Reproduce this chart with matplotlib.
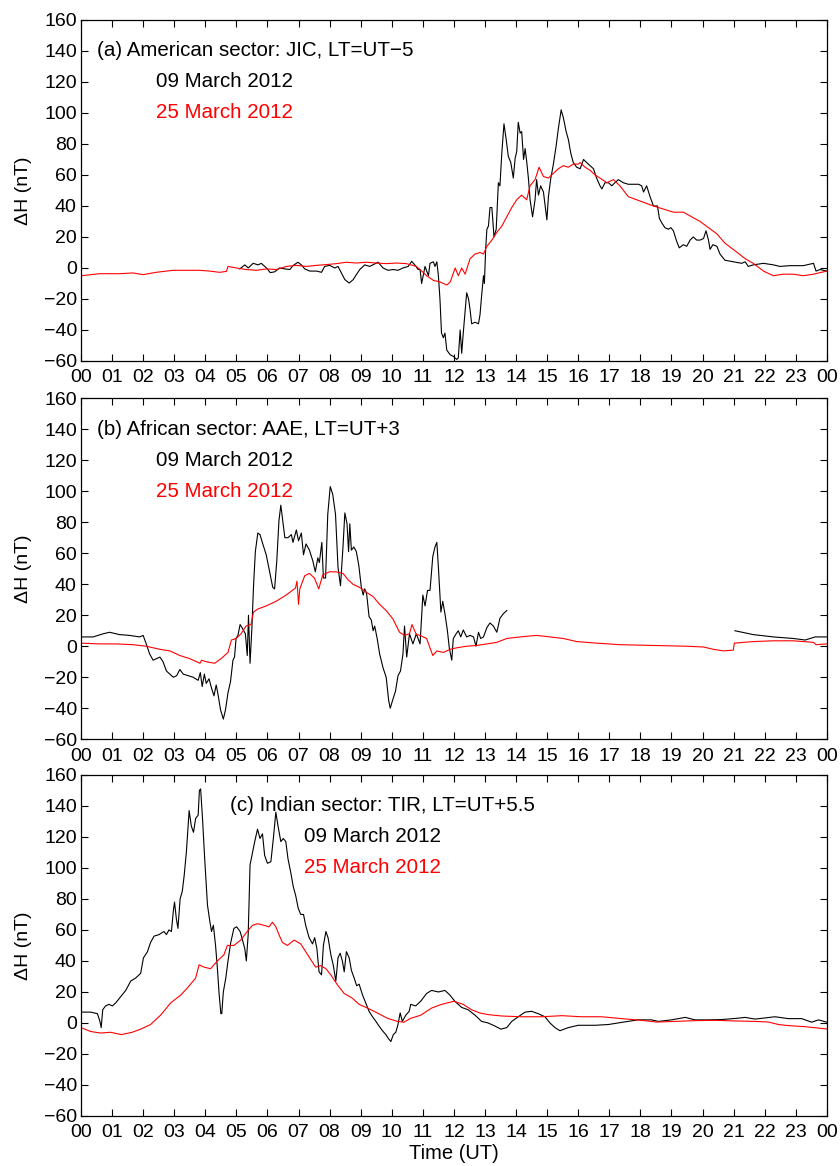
import numpy as np
import matplotlib
matplotlib.use('Agg')
import matplotlib.pyplot as plt

plt.rcParams['font.family'] = ['Liberation Sans', 'DejaVu Sans']

# Panel (a) American sector, JIC
a_t_red = [0.0, 0.6, 1.24, 1.67, 2.0, 2.42, 2.96, 3.39, 3.82, 4.14, 4.46, 4.68, 4.73, 5.0, 5.32, 5.64, 5.97,
           6.29, 6.61, 6.93, 7.25, 7.58, 7.9, 8.22, 8.54, 8.86, 9.18, 9.51, 9.83, 10.15, 10.47, 10.79,
           10.91, 11.12, 11.34, 11.55, 11.77, 11.88, 12.04, 12.14, 12.25, 12.36, 12.52, 12.68, 12.84, 12.95,
           13.06, 13.22, 13.38, 13.54, 13.7, 13.86, 14.02, 14.18, 14.34, 14.45, 14.61, 14.74, 14.88, 15.04,
           15.2, 15.36, 15.52, 15.68, 15.84, 16.0, 16.06, 16.22, 16.38, 16.54, 16.7, 16.92, 17.13, 17.34,
           17.61, 17.88, 18.15, 18.42, 18.74, 19.06, 19.38, 19.65, 19.92, 20.19, 20.46, 20.72, 21.05, 21.37,
           21.63, 21.96, 22.28, 22.6, 22.92, 23.24, 23.57, 23.78, 24.0]
a_red = [-5, -3.7, -3.7, -3.2, -4.3, -2.8, -1.5, -1.5, -1.5, -2, -2.8, -2.2, 1, 0, -1, -1.5, -0.6,
         -1, 1, 1.7, 1, 1.7, 2.2, 2.8, 3.7, 3.2, 3.7, 3.2, 2.8, 3.2, 2.8, 1,
         -1, -5, -8, -9, -11, -9, 0, -5, 0, -4, 6, 9, 10, 9,
         14, 18, 23, 27, 33, 39, 44, 47, 44, 53, 57, 65, 59, 58,
         61, 64, 66, 65, 67, 67, 68, 65, 63, 60, 58, 55, 57, 53,
         46, 44, 42, 40, 38, 36, 36, 33, 30, 26, 22, 16, 11, 6,
         3, -2, -5, -4, -4, -5, -4, -3, -2]

a_t_black = [5.11, 5.27, 5.38, 5.54, 5.7, 5.8, 5.97, 6.09, 6.23, 6.39, 6.56, 6.72, 6.82, 6.98, 7.09, 7.2,
             7.36, 7.58, 7.74, 7.84, 8.0, 8.17, 8.27, 8.38, 8.49, 8.63, 8.76, 8.86, 8.97, 9.13, 9.29, 9.45,
             9.56, 9.72, 9.88, 10.04, 10.2, 10.36, 10.53, 10.64, 10.74, 10.85,
             10.91, 10.96, 11.07, 11.18, 11.23, 11.34, 11.39, 11.45, 11.5, 11.55, 11.6, 11.66, 11.71, 11.77,
             11.88, 11.98, 12.09, 12.14, 12.2, 12.25, 12.3, 12.41, 12.47, 12.52, 12.57, 12.68, 12.79, 12.84,
             12.89, 12.95, 12.98, 13.02, 13.06, 13.11, 13.16, 13.22, 13.29, 13.36, 13.43, 13.48, 13.54, 13.61,
             13.68, 13.75, 13.83, 13.91, 13.97, 14.02, 14.07, 14.13, 14.18, 14.24, 14.29, 14.34, 14.4, 14.45,
             14.53, 14.61, 14.66, 14.72, 14.79, 14.88, 14.99, 15.04, 15.11, 15.2, 15.29, 15.36, 15.45, 15.52,
             15.61, 15.68, 15.76, 15.84, 15.95, 16.06, 16.17, 16.27, 16.38, 16.49, 16.59, 16.7, 16.76, 16.86,
             16.97, 17.08, 17.18, 17.29, 17.45, 17.61, 17.77, 17.94, 18.04, 18.1, 18.2, 18.31, 18.42, 18.55,
             18.61, 18.69, 18.79, 18.9, 18.98, 19.06, 19.17, 19.25, 19.38, 19.49, 19.6, 19.7, 19.81, 19.92,
             20.03, 20.11, 20.19, 20.24, 20.33, 20.46, 20.56, 20.72, 20.99, 21.26, 21.37, 21.47, 21.63, 21.96,
             22.28, 22.49, 22.81, 23.24, 23.57, 23.65, 23.78, 24.0]
a_black = [-0.6, 2, 0, 3, 2, 3, 0, -3, -2.5, 0, -0.6, -1, 1.5, 3.7, 2, -0.6,
           -2, -2, -2.8, 1, 1.7, 0, 1, -3.2, -7.5, -9.7, -7.5, -4.3, -1, 2, 1, 2.6,
           3.7, 0, -1.5, -1, -1.5, 0, 1, 4.3, 2, -1,
           -1, -10, 1, -5, 3, 4, 1, 4, -5, -20, -42, -45, -42, -53,
           -56, -57, -59, -58, -40, -55, -42, -16, -20, -27, -36, -35, -36, -30,
           -18, -5, -10, 12, 25, 27, 39, 39, 20, 25, 55, 53, 74, 93,
           83, 72, 68, 58, 71, 75, 94, 87, 88, 70, 77, 69, 57, 44,
           33, 44, 57, 47, 53, 49, 31, 46, 57, 67, 79, 90, 102, 97,
           88, 83, 74, 68, 65, 64, 70, 68, 66, 64, 58, 53, 51, 55,
           55, 53, 55, 57, 55, 54, 54, 54, 53, 49, 53, 46, 40, 40,
           32, 29, 26, 25, 26, 24, 17, 13, 15, 14, 18, 20, 18, 18,
           19, 24, 18, 12, 15, 14, 9, 5, 4, 3, 4, 1, 2, 3,
           2, 1, 1.5, 1.5, 3, -2, -1, -2]

# Panel (b) African sector, AAE
b_t_red = [0.0, 0.6, 1.14, 1.67, 2.1, 2.54, 2.86, 3.18, 3.5, 3.83, 3.88, 4.03, 4.3, 4.51, 4.73, 4.84,
           4.99, 5.15, 5.31, 5.47, 5.55, 5.69, 5.96, 6.28, 6.6, 6.9, 6.95, 7.0, 7.04, 7.2, 7.35, 7.51,
           7.65, 7.78, 7.99, 8.21, 8.43, 8.59, 8.75, 8.96, 9.17, 9.4, 9.61, 9.82, 10.04, 10.25, 10.41,
           10.57, 10.65, 10.79, 10.91, 11.12, 11.32, 11.45, 11.66, 11.88, 12.09, 12.41, 12.73, 13.06,
           13.38, 13.7, 14.13, 14.66, 15.09, 15.52, 15.95, 16.59, 17.34, 18.42, 19.49, 20.03, 20.35,
           20.67, 20.99, 21.02, 21.63, 22.28, 22.92, 23.57, 23.65, 24.0]
b_red = [2, 1.5, 1.5, 1, 0, -2, -3, -6, -8, -11, -9, -10, -11, -8, -4, 4,
         5, 8, 13, 14, 22, 24, 26, 29, 33, 37.5, 42, 27, 37, 45.5, 47, 44,
         37, 46, 48, 48, 47, 43, 40, 38, 35, 32, 27, 23, 17.5, 9, 7,
         8, 14, 7.5, 7, 5, -6, -3, -4, -2, -1, 0, 0.5, 1.5,
         2.5, 5, 6, 7, 6, 5, 3, 2, 1, 0.5, 0, -0.5, -2,
         -3, -2.5, 2, 3, 3.5, 3.5, 2.5, 1, 1.5]

b_t_black = [0.0, 0.39, 0.71, 0.92, 1.24, 1.56, 1.89, 2.0, 2.1, 2.21, 2.32, 2.43, 2.54, 2.64, 2.75, 2.86,
             2.97, 3.08, 3.18, 3.29, 3.45, 3.61, 3.77, 3.84, 3.9, 3.97, 4.03, 4.12, 4.2, 4.28, 4.35, 4.4,
             4.49, 4.58, 4.65, 4.73, 4.81, 4.89, 4.94, 4.99, 5.05, 5.12, 5.21, 5.29, 5.35, 5.39, 5.44, 5.5,
             5.55, 5.61, 5.69, 5.76, 5.85, 5.96, 6.07, 6.17, 6.23, 6.3, 6.37, 6.43, 6.48, 6.56, 6.66, 6.77,
             6.82, 6.93, 7.0, 7.09, 7.16, 7.24, 7.35, 7.46, 7.54, 7.62, 7.67, 7.75, 7.8, 7.87, 7.94, 8.02,
             8.1, 8.19, 8.27, 8.35, 8.43, 8.49, 8.56, 8.61, 8.65, 8.7, 8.78, 8.86, 8.94, 9.02, 9.08, 9.13,
             9.19, 9.27, 9.34, 9.4, 9.45, 9.53, 9.61, 9.72, 9.82, 9.9, 9.95, 10.04, 10.12, 10.2, 10.28,
             10.36, 10.41, 10.48, 10.57, 10.68, 10.79, 10.91, 11.0, 11.07, 11.15, 11.23, 11.32, 11.39,
             11.45, 11.5, 11.58, 11.64, 11.71, 11.79, 11.85, 11.93, 11.98, 12.07, 12.14, 12.22, 12.3,
             12.41, 12.52, 12.63, 12.71, 12.79, 12.86, 12.95, 13.06, 13.16, 13.27, 13.38, 13.48, 13.59,
             13.7, 17.0, 21.04, 21.63, 22.28, 22.92, 23.3, 23.62, 24.0]
b_black = [6, 6, 8, 9, 7.5, 7, 6, 7, 1.5, -5, -9, -8, -7, -10, -16, -18,
           -20, -19, -15, -18, -19, -20, -22, -17, -26, -18, -24, -21, -27, -32, -25, -30,
           -41, -47, -41, -30, -23, -9, -7, 5, 7, 14, 11, 8, -6, 20, -11, 12,
           38, 61, 73, 72, 66, 59, 48, 38, 37, 55, 81, 91, 83, 70, 70, 72,
           67, 75, 68, 73, 59, 66, 62, 55, 48, 57, 54, 67, 44, 44, 85, 103,
           98, 85, 51, 39, 64, 86, 79, 61, 79, 62, 64, 61, 52, 38, 33, 37,
           34, 19, 17, 10, 13, 5, -5, -14, -20, -35, -40, -34, -29, -19, -16,
           -5, 13, -7, 8, 1.5, 8, 1.5, 33, 26, 36, 36, 58, 64,
           67, 51, 22, 29, 21, 10, -1, -9, 5, 8, 10, 6, 10.5,
           6, 7, 6, 0, 9, 5, 6, 12, 15, 13, 9, 18, 21,
           23, np.nan, 10, 7.5, 6, 5, 4, 6, 6]

# Panel (c) Indian sector, TIR
c_t_red = [0.0, 0.31, 0.63, 0.95, 1.3, 1.65, 1.92, 2.24, 2.56, 2.89, 3.21, 3.42, 3.69, 3.8, 3.96, 4.17,
           4.39, 4.6, 4.71, 4.92, 5.14, 5.35, 5.52, 5.68, 5.89, 6.05, 6.16, 6.27, 6.37, 6.48, 6.64, 6.86,
           7.07, 7.23, 7.39, 7.55, 7.71, 7.88, 8.04, 8.25, 8.47, 8.73, 8.95, 9.22, 9.54, 9.86, 10.18,
           10.39, 10.61, 10.93, 11.28, 11.6, 12.0, 12.3, 12.57, 12.84, 13.1, 13.53, 14.18, 14.82, 15.47,
           16.11, 16.75, 17.4, 18.04, 18.52, 19.11, 19.76, 20.4, 21.04, 21.69, 22.12, 22.44, 22.76,
           23.3, 24.0]
c_red = [-3, -5.5, -6.5, -6, -7.5, -6, -4, -1, 5, 13, 18, 22.5, 29, 37.5, 36, 35,
         40, 44, 50, 50, 53.5, 59, 63, 64, 63, 62, 65, 62, 57, 52, 50, 53.5,
         51, 46, 41, 36, 37, 35, 31, 24.6, 19, 16, 12, 9.6, 6.4, 3, 1,
         0.5, 3, 5, 9.6, 12, 14, 12, 8.5, 6.4, 5.4, 4.5, 4, 4, 4.7,
         4, 4, 2.8, 1.7, 0.6, 1, 1.5, 1.7, 1.3, 1, 0.6, -1, -1.7,
         -2.4, -3.9]

c_t_black = [0.0, 0.31, 0.53, 0.61, 0.65, 0.7, 0.79, 0.9, 1.01, 1.12, 1.28, 1.44, 1.6, 1.76, 1.92, 2.01,
             2.14, 2.24, 2.35, 2.51, 2.67, 2.75, 2.83, 2.91, 2.97, 3.01, 3.07, 3.12, 3.19, 3.26, 3.32, 3.39,
             3.48, 3.55, 3.62, 3.69, 3.77, 3.81, 3.85, 3.91, 3.98, 4.07, 4.15, 4.2, 4.26, 4.33, 4.39, 4.44,
             4.5, 4.53, 4.58, 4.66, 4.73, 4.82, 4.92, 5.01, 5.12, 5.19, 5.27, 5.32, 5.38, 5.44, 5.52, 5.59,
             5.68, 5.76, 5.84, 5.91, 6.0, 6.11, 6.19, 6.27, 6.34, 6.43, 6.51, 6.59, 6.66, 6.75, 6.83, 6.91,
             6.99, 7.07, 7.16, 7.23, 7.34, 7.45, 7.52, 7.59, 7.66, 7.74, 7.8, 7.88, 7.95, 8.04, 8.12, 8.2,
             8.27, 8.34, 8.41, 8.47, 8.54, 8.63, 8.7, 8.79, 8.87, 8.95, 9.06, 9.16, 9.27, 9.38, 9.49, 9.59,
             9.7, 9.81, 9.89, 9.97, 10.05, 10.13, 10.2, 10.27, 10.34, 10.45, 10.56, 10.61, 10.77, 10.93,
             11.12, 11.28, 11.5, 11.71, 11.87, 12.03, 12.25, 12.46, 12.68, 12.89, 13.1, 13.32, 13.51, 13.7,
             13.86, 14.07, 14.29, 14.5, 14.71, 14.93, 15.09, 15.25, 15.41, 15.68, 16.0, 16.54, 16.97, 17.4,
             17.93, 18.36, 18.58, 19.0, 19.44, 19.76, 20.19, 20.62, 21.1, 21.37, 21.69, 22.33, 22.76,
             23.19, 23.51, 23.73, 24.0]
c_black = [7, 7, 6, 1, -3, 8.5, 11, 12, 11, 13, 17, 21, 27, 29, 32, 42,
           46, 52, 56, 57, 59, 57, 60, 59, 72, 78, 67, 61, 80, 85, 95, 110,
           137, 127, 123, 132, 134, 150, 151, 132, 106, 76, 65, 59, 63, 50, 35, 20,
           6, 6, 20, 29, 40, 52, 61, 62, 59, 54, 48, 40, 57, 102, 110, 117,
           125, 119, 122, 108, 103, 104, 119, 136, 127, 117, 119, 117, 106, 97, 88, 82,
           74, 70, 70, 63, 55, 51, 55, 48, 33, 31, 50, 59, 55, 44, 37, 27,
           42, 45, 40, 33, 46, 42, 34, 29, 24, 25, 18, 13, 7.5, 4, 1, -2,
           -5, -7.5, -10, -12, -7.5, -6, -1, 6.5, 1, 5, 7.5, 12, 11, 14,
           19, 21, 20, 21, 18, 14, 10, 8.5, 5, 1, 0, -2, -4, -3,
           1, 4, 7, 7.5, 6, 4, 0, -3, -5, -3, -1.5, -1.5, -1, 0.4,
           2, 2, 1, 2, 3.6, 2, 2, 2.2, 3, 3.6, 2.5, 4, 2.8,
           2.8, 0.5, 2, 0.5]

titles = ['(a) American sector: JIC, LT=UT\u22125',
          '(b) African sector: AAE, LT=UT+3',
          '(c) Indian sector: TIR, LT=UT+5.5']
black_t = [a_t_black, b_t_black, c_t_black]
black_v = [a_black, b_black, c_black]
red_t = [a_t_red, b_t_red, c_t_red]
red_v = [a_red, b_red, c_red]
hour_labels = ['%02d' % h for h in range(24)] + ['00']

# label positions (hours) per panel: title x, date x
title_x = [0.5, 0.5, 4.8]
date_x = [2.42, 2.42, 7.17]
bottoms = [0.6904, 0.3660, 0.0429]

fig = plt.figure(figsize=(8.4, 11.66), dpi=100)
for i in range(3):
    ax = fig.add_axes([0.0964, bottoms[i], 0.888, 0.2925])
    ax.plot(black_t[i], black_v[i], color='black', lw=0.8)
    ax.plot(red_t[i], red_v[i], color='red', lw=0.8)
    ax.set_xlim(0, 24)
    ax.set_ylim(-60, 160)
    ax.set_xticks(range(25))
    ax.set_xticklabels(hour_labels)
    ax.set_yticks(range(-60, 161, 20))
    ax.tick_params(direction='in', top=True, right=True, length=5, width=0.8, labelsize=14)
    ax.tick_params(axis='x', pad=6)
    ax.tick_params(axis='y', pad=3)
    for s in ax.spines.values():
        s.set_linewidth(0.9)
    ax.set_ylabel('\u0394H (nT)', fontsize=14, labelpad=8)
    ax.text(title_x[i], 140, titles[i], fontsize=14.8, va='center', ha='left')
    ax.text(date_x[i], 120, '09 March 2012', fontsize=14.8, va='center', ha='left', color='black')
    ax.text(date_x[i], 100, '25 March 2012', fontsize=14.8, va='center', ha='left', color='red')
    if i == 2:
        ax.set_xlabel('Time (UT)', fontsize=14.5, labelpad=2)

fig.savefig('out.png', dpi=100)
